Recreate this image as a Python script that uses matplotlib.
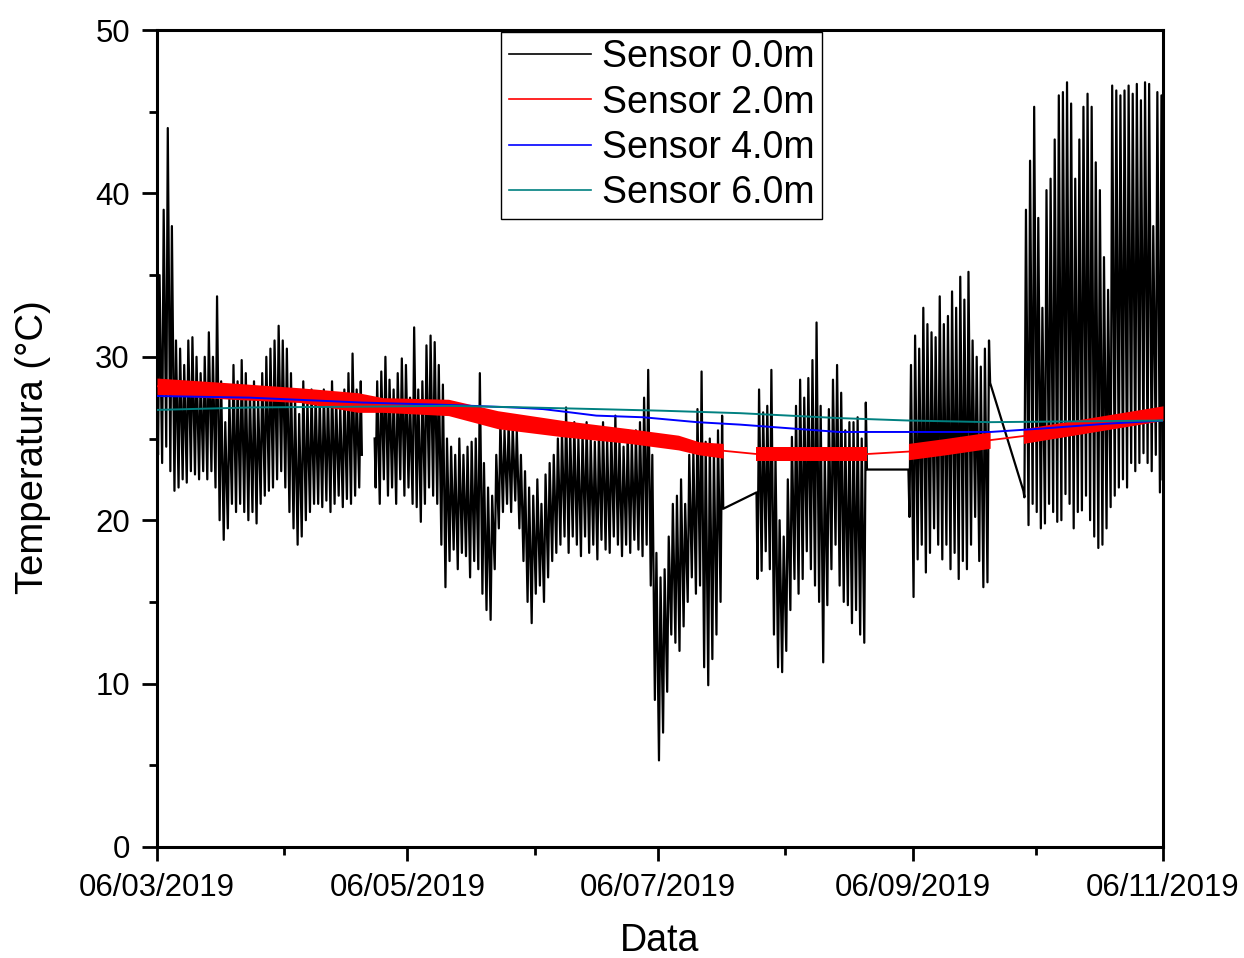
# -*- coding: utf-8 -*-
# Temperatura do solo - sensores a 0.0m, 2.0m, 4.0m e 6.0m
# Periodo: 06/03/2019 a 06/11/2019
# ============================================

# Imports
import numpy as np
import matplotlib
matplotlib.use("Agg")
import matplotlib.pyplot as plt
import matplotlib.dates as mdates
from datetime import datetime
# ============================================

# Dados
inicio = datetime(2019, 3, 6)
fim = datetime(2019, 11, 6)

# Sensor 0.0m: minimos / maximos diarios por bloco de medicao (dia 0 = 06/03/2019)
# Bloco A (06/03 - 24/04)
s0_a_dia0 = 0
s0_a_abre, s0_a_fecha = 27.0, 24.0
s0_a_min = [24.0, 23.5, 24.5, 23.0, 21.8, 22.0, 22.5, 22.3, 23.0, 22.8,
            22.5, 23.0, 22.5, 23.0, 22.0, 20.0, 18.8, 19.5, 21.0, 20.5,
            21.0, 20.5, 20.0, 20.5, 19.8, 21.0, 21.5, 21.8, 22.0, 22.5,
            23.0, 22.0, 20.5, 19.5, 18.5, 19.0, 20.0, 20.5, 21.0, 21.0,
            20.8, 21.2, 20.5, 21.0, 21.5, 20.8, 21.3, 21.0, 21.5, 22.0]
s0_a_max = [35.0, 39.0, 44.0, 38.0, 31.0, 30.5, 29.5, 31.0, 31.2, 30.0,
            29.0, 30.0, 31.5, 30.0, 33.7, 28.5, 26.0, 27.5, 29.5, 28.5,
            29.8, 29.0, 28.0, 28.5, 27.5, 29.0, 30.0, 30.5, 31.0, 31.9,
            31.0, 30.5, 29.0, 27.5, 26.5, 28.5, 27.5, 28.0, 27.8, 27.5,
            28.0, 27.8, 28.5, 27.5, 27.0, 28.0, 29.0, 30.2, 28.0, 28.5]

# Bloco B (28/04 - 21/07)
s0_b_dia0 = 53
s0_b_abre, s0_b_fecha = 25.0, 20.7
s0_b_min = [22.0, 21.0, 22.5, 21.5, 22.0, 21.0, 22.5, 21.5, 22.0, 21.0,
            20.8, 19.9, 21.0, 22.0, 21.5, 21.0, 18.5, 15.9, 17.5, 18.2,
            17.0, 18.0, 17.8, 16.5, 17.5, 17.0, 15.5, 14.5, 13.9, 17.0,
            19.5, 20.5, 21.0, 20.5, 21.2, 19.5, 17.5, 15.0, 13.7, 15.5,
            16.0, 15.0, 16.5, 17.5, 18.0, 18.5, 19.0, 18.0, 19.0, 18.5,
            17.8, 19.0, 18.0, 18.5, 17.6, 18.8, 18.2, 18.0, 19.0, 18.5,
            17.8, 18.5, 18.0, 18.8, 18.2, 17.8, 18.5, 16.0, 9.0, 5.3,
            7.0, 9.5, 13.0, 12.5, 12.0, 13.5, 15.0, 16.5, 15.5, 16.0,
            11.0, 9.9, 11.5, 13.0, 15.0]
s0_b_max = [28.5, 29.1, 30.0, 28.6, 28.0, 29.0, 29.9, 29.5, 27.5, 31.8,
            28.0, 28.5, 30.7, 31.3, 30.9, 29.5, 28.3, 25.0, 24.5, 24.0,
            25.0, 24.0, 24.5, 24.8, 25.0, 29.0, 23.5, 22.0, 21.5, 24.0,
            26.1, 25.5, 26.0, 25.8, 25.5, 24.0, 23.0, 22.0, 21.5, 22.5,
            21.0, 22.8, 23.5, 24.0, 25.0, 25.5, 26.9, 25.5, 26.0, 25.0,
            25.5, 26.0, 25.0, 24.8, 25.5, 26.0, 25.0, 25.5, 26.4, 25.0,
            24.5, 25.5, 25.0, 25.5, 26.0, 27.5, 29.2, 24.0, 18.0, 16.5,
            17.0, 19.0, 21.0, 21.5, 22.5, 21.0, 24.0, 24.3, 26.8, 29.1,
            24.8, 25.0, 24.5, 25.5, 26.4]

# Bloco C (30/07 - 25/08)
s0_c_dia0 = 146
s0_c_abre, s0_c_fecha = 21.7, 23.1
s0_c_min = [16.4, 16.9, 18.1, 17.0, 13.0, 11.0, 10.7, 12.0, 14.5, 16.4,
            15.5, 16.4, 18.1, 17.0, 16.0, 15.0, 11.3, 14.8, 17.0, 18.5,
            16.0, 15.0, 14.8, 13.7, 14.5, 13.0, 12.5]
s0_c_max = [28.0, 26.6, 27.0, 29.2, 24.0, 20.0, 19.0, 22.5, 25.1, 27.0,
            28.6, 27.5, 28.7, 29.8, 32.1, 27.0, 24.1, 26.8, 28.6, 29.5,
            27.8, 25.5, 26.0, 26.0, 26.3, 25.0, 27.2]

# Bloco D (05/09 - 24/09)
s0_d_dia0 = 183
s0_d_abre, s0_d_fecha = 23.1, 28.4
s0_d_min = [20.2, 15.3, 17.6, 18.5, 16.8, 18.0, 19.5, 18.5, 17.6, 18.5,
            17.0, 18.0, 16.4, 17.5, 17.0, 18.5, 20.2, 17.5, 15.9, 16.2]
s0_d_max = [29.5, 31.3, 30.5, 33.0, 32.0, 31.5, 31.2, 33.7, 32.0, 32.5,
            34.0, 33.0, 34.9, 33.5, 35.2, 31.0, 30.0, 29.4, 30.5, 31.0]

# Bloco E (03/10 - 05/11)
s0_e_dia0 = 211
s0_e_abre, s0_e_fecha = 21.8, 22.5
s0_e_min = [21.4, 19.7, 21.0, 20.5, 19.5, 19.8, 21.0, 20.5, 19.9, 20.0,
            21.6, 21.0, 19.5, 20.5, 20.6, 21.5, 20.0, 19.0, 18.3, 18.5,
            19.5, 20.8, 21.5, 22.0, 22.5, 22.0, 23.5, 23.0, 23.5, 24.1,
            23.5, 23.0, 24.0, 21.7]
s0_e_max = [39.0, 42.0, 45.3, 38.5, 33.0, 40.2, 40.9, 43.3, 46.0, 46.2,
            46.8, 45.5, 40.9, 43.3, 45.3, 46.1, 45.3, 41.9, 40.2, 36.1,
            34.1, 46.6, 46.3, 46.0, 46.3, 46.6, 46.1, 46.7, 45.7, 46.8,
            46.7, 38.0, 46.2, 46.0]

# Sensor 2.0m: faixa diaria (limite superior / inferior) por bloco
s2_ab_dias = [0, 18, 35, 49, 55, 71, 83, 99, 115, 127, 132, 137.9]
s2_ab_sup = [28.7, 28.4, 28.1, 27.8, 27.5, 27.4, 26.7, 26.1, 25.6, 25.2, 24.8, 24.7]
s2_ab_inf = [27.7, 27.4, 27.2, 26.6, 26.6, 26.4, 25.6, 25.1, 24.7, 24.3, 24.0, 23.8]
s2_c_dias = [146, 160, 172.9]
s2_c_sup = [24.5, 24.5, 24.5]
s2_c_inf = [23.6, 23.6, 23.6]
s2_d_dias = [183, 192, 202.9]
s2_d_sup = [24.7, 25.0, 25.4]
s2_d_inf = [23.7, 24.0, 24.4]
s2_e_dias = [211, 228, 245]
s2_e_sup = [25.6, 26.3, 27.0]
s2_e_inf = [24.7, 25.4, 26.1]

# Sensor 4.0m
s4_dias = [0, 22.6, 50, 71.4, 86.8, 94, 100.6, 107, 118.4, 131.5, 142, 150, 166, 183, 203, 215, 231, 245]
s4_temp = [27.6, 27.5, 27.2, 27.05, 26.9, 26.8, 26.6, 26.4, 26.3, 26.0, 25.85, 25.7, 25.4, 25.4, 25.4, 25.6, 25.9, 26.1]

# Sensor 6.0m
s6_dias = [0, 23, 50, 71, 90, 107, 123, 142, 166, 183, 203, 245]
s6_temp = [26.75, 26.9, 26.95, 27.0, 26.9, 26.8, 26.7, 26.55, 26.25, 26.1, 26.0, 26.1]
# ============================================


# Function serie_diaria
def serie_diaria(dia0, minimos, maximos, abertura, fechamento):
    """Monta a serie horaria simplificada: minimo de madrugada, maximo a tarde."""
    t = [dia0]
    v = [abertura]
    for i in range(len(minimos)):
        t += [dia0 + i + 0.25, dia0 + i + 0.625]
        v += [minimos[i], maximos[i]]
    t.append(dia0 + len(minimos) - 0.1)
    v.append(fechamento)
    return t, v
# ============================================

t0 = mdates.date2num(inicio)

# Sensor 0.0m (lacuna sem ligacao entre os blocos A e B)
blocos = [
    (s0_a_dia0, s0_a_min, s0_a_max, s0_a_abre, s0_a_fecha),
    (s0_b_dia0, s0_b_min, s0_b_max, s0_b_abre, s0_b_fecha),
    (s0_c_dia0, s0_c_min, s0_c_max, s0_c_abre, s0_c_fecha),
    (s0_d_dia0, s0_d_min, s0_d_max, s0_d_abre, s0_d_fecha),
    (s0_e_dia0, s0_e_min, s0_e_max, s0_e_abre, s0_e_fecha),
]
t_s0, v_s0 = [], []
for k, b in enumerate(blocos):
    t, v = serie_diaria(*b)
    t_s0 += t
    v_s0 += v
    if k == 0:
        t_s0.append(t[-1] + 0.5)
        v_s0.append(np.nan)
t_s0 = t0 + np.array(t_s0)
v_s0 = np.array(v_s0)

# Sensor 2.0m
faixas = [(s2_ab_dias, s2_ab_sup, s2_ab_inf), (s2_c_dias, s2_c_sup, s2_c_inf),
          (s2_d_dias, s2_d_sup, s2_d_inf), (s2_e_dias, s2_e_sup, s2_e_inf)]
t_s2, v_s2 = [], []
for dias, sup, inf in faixas:
    t_s2 += list(dias)
    v_s2 += list((np.array(sup) + np.array(inf)) / 2)
t_s2 = t0 + np.array(t_s2)

# Plot
plt.rcParams['font.family'] = ['Liberation Sans', 'DejaVu Sans']

fig = plt.figure(figsize=(12.44, 9.58), dpi=100)
ax = fig.add_axes([157 / 1244, 1 - 847 / 958, 1006 / 1244, 817 / 958])

l0, = ax.plot(t_s0, v_s0, color='black', lw=1.6, label='Sensor 0.0m', zorder=2)
l2, = ax.plot(t_s2, v_s2, color='red', lw=1.3, label='Sensor 2.0m', zorder=3)
for dias, sup, inf in faixas:
    ax.fill_between(t0 + np.array(dias), inf, sup, color='red', lw=0, zorder=3)
l4, = ax.plot(t0 + np.array(s4_dias), s4_temp, color='#0000ff', lw=1.4, label='Sensor 4.0m', zorder=4)
l6, = ax.plot(t0 + np.array(s6_dias), s6_temp, color='#008080', lw=1.4, label='Sensor 6.0m', zorder=5)

ax.set_xlim(t0, mdates.date2num(fim))
ax.set_ylim(0, 50)

ax.xaxis.set_major_locator(mdates.MonthLocator(bymonth=[3, 5, 7, 9, 11], bymonthday=6))
ax.xaxis.set_minor_locator(mdates.MonthLocator(bymonth=[4, 6, 8, 10], bymonthday=6))
ax.xaxis.set_major_formatter(mdates.DateFormatter('%d/%m/%Y'))
ax.set_yticks(np.arange(0, 51, 10))
ax.set_yticks(np.arange(5, 50, 10), minor=True)

for s in ax.spines.values():
    s.set_linewidth(2.2)
ax.tick_params(axis='both', which='major', direction='out', width=2.0, labelsize=22.4)
ax.tick_params(axis='x', which='major', length=10, pad=9)
ax.tick_params(axis='y', which='major', length=10.5, pad=9)
ax.tick_params(axis='both', which='minor', direction='out', width=2.0, length=5.5)

ax.set_xlabel('Data', fontsize=27)
ax.set_ylabel('Temperatura (°C)', fontsize=27.5)
ax.xaxis.set_label_coords(0.5, -0.093)
ax.yaxis.set_label_coords(-0.105, 0.49)

leg = ax.legend(handles=[l0, l2, l4, l6], loc='upper left', bbox_to_anchor=(0.342, 0.998),
                fontsize=27, frameon=True, fancybox=False, edgecolor='black', framealpha=1,
                borderpad=0.2, labelspacing=0.25, handlelength=2.2, handletextpad=0.3,
                borderaxespad=0)
leg.get_frame().set_linewidth(1.0)
for h in leg.get_lines():
    h.set_linewidth(1.2)

fig.savefig('out.png', dpi=100)
